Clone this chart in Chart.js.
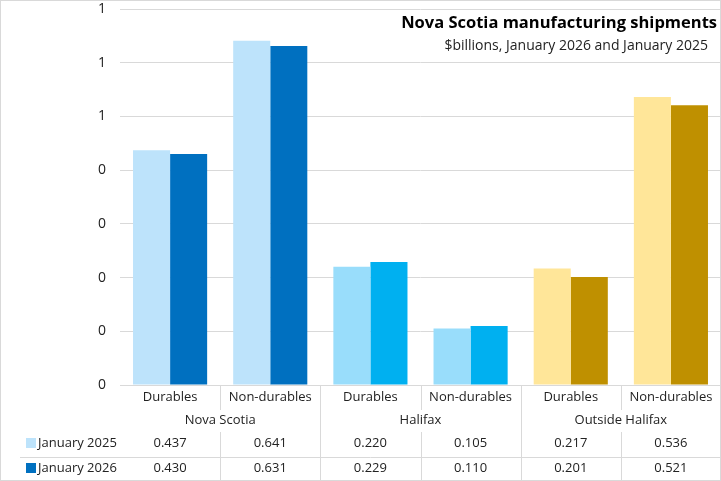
<!DOCTYPE html>
<html>
<head>
<meta charset="utf-8">
<script src="https://cdn.jsdelivr.net/npm/chart.js@4"></script>
<style>
  body { margin: 0; background: #fff; }
  canvas { display: block; }
</style>
</head>
<body>
<canvas id="shipChart" width="721" height="481"></canvas>
<script>
const categories = ['Durables', 'Non-durables', 'Durables', 'Non-durables', 'Durables', 'Non-durables'];
const groups = ['Nova Scotia', 'Halifax', 'Outside Halifax'];
const jan2025 = [0.437, 0.641, 0.220, 0.105, 0.217, 0.536];
const jan2026 = [0.430, 0.631, 0.229, 0.110, 0.201, 0.521];
const seriesNames = ['January 2025', 'January 2026'];
const yTicks = [0, 0.1, 0.2, 0.3, 0.4, 0.5, 0.6, 0.7];

const lightColors = ['#BDE3FB', '#BDE3FB', '#99DDFB', '#99DDFB', '#FFE699', '#FFE699'];
const darkColors = ['#0070C0', '#0070C0', '#00B0F0', '#00B0F0', '#BF9000', '#BF9000'];
const fontFam = '"Open Sans", "Noto Sans", sans-serif';
const lineCol = '#d9d9d9';

// table under the plot, title, and outer frame
const tablePlugin = {
  id: 'tablePlugin',
  afterDraw(chart) {
    const c = chart.ctx;
    const x = chart.scales.x;
    const area = chart.chartArea;
    const W = chart.width, H = chart.height;
    const step = x.getPixelForValue(1) - x.getPixelForValue(0);
    c.save();

    c.strokeStyle = lineCol;
    c.lineWidth = 1;
    c.beginPath();
    // column separators
    for (let i = 0; i < categories.length - 1; i++) {
      const px = Math.round(x.getPixelForValue(i) + step / 2) + 0.5;
      if (i % 2 === 0) {
        c.moveTo(px, area.bottom); c.lineTo(px, area.bottom + 25);
        c.moveTo(px, area.bottom + 47); c.lineTo(px, H);
      } else {
        c.moveTo(px, area.bottom); c.lineTo(px, H);
      }
    }
    // row line between series
    c.moveTo(20, 457.5); c.lineTo(W, 457.5);
    c.stroke();

    // group labels
    c.fillStyle = '#222';
    c.font = '13px ' + fontFam;
    c.textAlign = 'center';
    c.textBaseline = 'middle';
    groups.forEach((g, i) => {
      const px = (x.getPixelForValue(i * 2) + x.getPixelForValue(i * 2 + 1)) / 2;
      c.fillText(g, px, 420);
    });

    // data rows
    const rows = [jan2025, jan2026];
    const rowY = [443, 468];
    rows.forEach((vals, r) => {
      c.fillStyle = r === 0 ? lightColors[0] : darkColors[0];
      c.fillRect(26, rowY[r] - 5, 10, 10);
      c.fillStyle = '#222';
      c.textAlign = 'left';
      c.fillText(seriesNames[r], 38, rowY[r]);
      c.textAlign = 'center';
      vals.forEach((v, i) => {
        c.fillText(v.toFixed(3), x.getPixelForValue(i), rowY[r]);
      });
    });

    // title
    c.textAlign = 'right';
    c.fillStyle = '#000';
    c.font = 'bold 16.5px ' + fontFam;
    c.fillText('Nova Scotia manufacturing shipments', 717, 23);
    c.fillStyle = '#222';
    c.font = '14px ' + fontFam;
    c.fillText('$billions, January 2026 and January 2025', 708, 46);

    // frame
    c.strokeStyle = lineCol;
    c.strokeRect(0.5, 0.5, W - 1, H - 1);
    c.restore();
  }
};

new Chart(document.getElementById('shipChart'), {
  type: 'bar',
  data: {
    labels: categories,
    datasets: [
      { label: seriesNames[0], data: jan2025, backgroundColor: lightColors, categoryPercentage: 0.74, barPercentage: 1 },
      { label: seriesNames[1], data: jan2026, backgroundColor: darkColors, categoryPercentage: 0.74, barPercentage: 1 }
    ]
  },
  options: {
    responsive: false,
    animation: false,
    layout: { padding: { top: 9, right: 0, left: 0, bottom: 0 } },
    plugins: { legend: { display: false }, tooltip: { enabled: false } },
    scales: {
      x: {
        grid: { display: false, drawTicks: false },
        border: { display: true, color: lineCol },
        ticks: { color: '#222', font: { family: fontFam, size: 13 }, padding: 4, maxRotation: 0, autoSkip: false },
        afterFit: s => { s.height = 96; }
      },
      y: {
        min: 0,
        max: 0.7,
        afterBuildTicks: s => { s.ticks = yTicks.map(v => ({ value: v })); },
        grid: { color: lineCol, drawTicks: false },
        border: { display: false },
        ticks: {
          color: '#222',
          padding: 14,
          font: { family: fontFam, size: 14 },
          callback: v => String(Math.round(v))
        },
        afterFit: s => { s.width = 120; s.paddingTop = 0; s.paddingBottom = 0; }
      }
    }
  },
  plugins: [tablePlugin]
});
</script>
</body>
</html>
